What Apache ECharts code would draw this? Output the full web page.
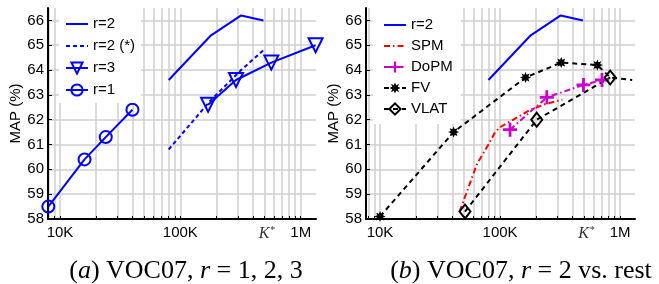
<!DOCTYPE html>
<html><head><meta charset="utf-8">
<script src="https://cdn.jsdelivr.net/npm/echarts@6/dist/echarts.min.js"></script>
<style>html,body{margin:0;padding:0;background:#fff}#c{width:659px;height:284px}</style>
</head><body><div id="c"></div>
<script>
// ---- tick / label values ----
const yTicks = [58, 59, 60, 61, 62, 63, 64, 65, 66];
const xGridK = [8000, 9000, 10000, 20000, 30000, 40000, 50000, 60000, 70000, 80000, 90000,
  100000, 200000, 300000, 400000, 500000, 600000, 700000, 800000, 900000, 1000000];
const xLabelK = [10000, 100000, 525000, 1000000];
const xLabelText = ['10K', '100K', 'K*', '1M'];
const captionA = '({i|a}) VOC07, {i|r} = 1, 2, 3';
const captionB = '({i|b}) VOC07, {i|r} = 2 vs. rest';

// ---- panel (a) ----
const r2K = [80000, 180000, 320000, 490000];
const r2MAP = [63.6, 65.4, 66.2, 66.0];
const r2sK = [80000, 180000, 320000, 490000];
const r2sMAP = [60.8, 62.8, 64.0, 64.8];
const r3K = [170000, 290000, 570000, 1330000];
const r3MAP = [62.6, 63.6, 64.3, 65.0];
const r1K = [8000, 16000, 24000, 40000];
const r1MAP = [58.5, 60.4, 61.3, 62.4];

// ---- panel (b) ----
const spmK = [46000, 64000, 80000, 91000, 100000, 129000, 178000, 245000, 330000];
const spmMAP = [58.3, 60.2, 61.0, 61.5, 61.7, 62.0, 62.4, 62.65, 62.8];
const dopmK = [121000, 245000, 495000, 706000];
const dopmMAP = [61.6, 62.9, 63.4, 63.6];
const fvK = [10000, 41000, 163000, 323000, 646000, 826000, 1260000];
const fvMAP = [58.1, 61.5, 63.7, 64.3, 64.2, 63.7, 63.6];
const fvMarkerCount = 5;
const vlatK = [51000, 202000, 826000];
const vlatMAP = [58.3, 62.0, 63.7];

const pairs = (xs, ys) => xs.map((x, i) => [x, ys[i]]);
const BLUE = '#0000ff', RED = '#ff0000', MAG = '#cc00cc', BLK = '#000000';
const FONT = 'Liberation Sans';
const CLEAR = 'rgba(255,255,255,0)';

function starPath(n, ro, ri) {
  let p = '';
  for (let i = 0; i < 2 * n; i++) {
    const r = i % 2 ? ri : ro;
    const a = Math.PI * i / n - Math.PI / 2;
    p += (i ? 'L' : 'M') + (10 + r * Math.cos(a)).toFixed(2) + ',' + (10 + r * Math.sin(a)).toFixed(2);
  }
  return 'path://' + p + 'Z';
}
const STAR = starPath(8, 10, 5.5);
const PLUS = 'path://M8,0H12V8H20V12H12V20H8V12H0V8H8Z';

function xLabelFmt(v) {
  for (let i = 0; i < xLabelK.length; i++) {
    if (Math.abs(Math.log10(v) - Math.log10(xLabelK[i])) < 0.01) {
      return xLabelText[i] === 'K*' ? '{k|K}{s|*}' : xLabelText[i];
    }
  }
  return '';
}

function makeX(idx, min, max) {
  return {
    type: 'log', gridIndex: idx, min: min, max: max, logBase: 10,
    axisLine: { show: true, lineStyle: { color: '#000', width: 2 } },
    axisTick: { show: true, inside: true, length: 3, customValues: xGridK, lineStyle: { color: '#000', width: 1 } },
    axisLabel: {
      customValues: xLabelK, formatter: xLabelFmt, margin: 6, color: '#000',
      fontFamily: FONT, fontSize: 15,
      rich: {
        k: { fontFamily: 'Liberation Serif', fontStyle: 'italic', fontSize: 16, color: '#333' },
        s: { fontFamily: 'Liberation Serif', fontSize: 10, color: '#333', padding: [0, 0, 7, 1] }
      }
    },
    splitLine: { show: true, lineStyle: { color: '#cfcfcf', width: 1.5 } }
  };
}
function makeY(idx, gap) {
  return {
    type: 'value', gridIndex: idx, min: 58, max: 66.5,
    name: 'MAP (%)', nameLocation: 'middle', nameGap: gap, nameRotate: 90,
    nameTextStyle: { fontFamily: FONT, fontSize: 15, color: '#000' },
    axisLine: { show: true, lineStyle: { color: '#000', width: 2 } },
    axisTick: { show: true, inside: true, length: 4, customValues: yTicks, lineStyle: { color: '#000', width: 1 } },
    axisLabel: { customValues: yTicks, margin: 4, color: '#000', fontFamily: FONT, fontSize: 15 },
    splitLine: { show: true, lineStyle: { color: '#cfcfcf', width: 1.5 } }
  };
}

const base = { type: 'line', animation: false, emphasis: { disabled: true }, smooth: false };
function ser(name, data, xi, color, lineType, symbol, size, opts) {
  const noSym = symbol === 'none';
  return Object.assign({}, base, {
    name: name, data: data, xAxisIndex: xi, yAxisIndex: xi,
    lineStyle: { color: color, width: 2, type: lineType },
    symbol: noSym ? 'circle' : symbol, symbolSize: noSym ? 1 : size, showSymbol: !noSym,
    itemStyle: { color: noSym ? CLEAR : color, borderWidth: 0 }
  }, opts || {});
}
const hollow = (c) => ({ itemStyle: { color: CLEAR, borderColor: c, borderWidth: 2 } });

const fvData = pairs(fvK, fvMAP).map((p, i) => i < fvMarkerCount ? p : { value: p, symbol: 'none' });

const legendCommon = {
  orient: 'vertical', backgroundColor: '#fff', itemWidth: 22, itemHeight: 14,
  textStyle: { fontFamily: FONT, fontSize: 15, color: '#000', lineHeight: 18 },
  selectedMode: false
};

const capStyle = { fontFamily: 'Liberation Serif', fontSize: 26, fontWeight: 'normal', color: '#000',
  rich: { i: { fontFamily: 'Liberation Serif', fontStyle: 'italic', fontSize: 26, color: '#000' } } };

const option = {
  backgroundColor: '#fff',
  animation: false,
  title: [
    { text: captionA, left: 181, top: 253, textAlign: 'center', textStyle: capStyle },
    { text: captionB, left: 516, top: 253, textAlign: 'center', textStyle: capStyle }
  ],
  grid: [
    { left: 48, top: 8, width: 268, height: 211 },
    { left: 366, top: 8, width: 269, height: 211 }
  ],
  xAxis: [makeX(0, 7950, 1340000), makeX(1, 7640, 1330000)],
  yAxis: [makeY(0, 24), makeY(1, 22)],
  legend: [
    Object.assign({}, legendCommon, { left: 59, top: 8, padding: [7, 6, 4, 6], itemGap: 4,
      data: ['r=2', 'r=2 (*)', 'r=3', 'r=1'] }),
    Object.assign({}, legendCommon, { left: 373, top: 8, padding: [8, 8, 6, 10], itemGap: 3,
      data: ['r=2', 'SPM', 'DoPM', 'FV', 'VLAT'] })
  ],
  series: [
    ser('r=2', pairs(r2K, r2MAP), 0, BLUE, 'solid', 'none', 0),
    ser('r=2 (*)', pairs(r2sK, r2sMAP), 0, BLUE, [4, 3], 'none', 0),
    ser('r=3', pairs(r3K, r3MAP), 0, BLUE, 'solid', 'triangle', 14, Object.assign({ symbolRotate: 180 }, hollow(BLUE))),
    ser('r=1', pairs(r1K, r1MAP), 0, BLUE, 'solid', 'circle', 12, hollow(BLUE)),
    ser('r=2', pairs(r2K, r2MAP), 1, BLUE, 'solid', 'none', 0),
    ser('SPM', pairs(spmK, spmMAP), 1, RED, [6, 3, 1.5, 3], 'none', 0),
    ser('DoPM', pairs(dopmK, dopmMAP), 1, MAG, [6, 3, 1.5, 3], PLUS, 14),
    ser('FV', fvData, 1, BLK, [5, 4], STAR, 11),
    ser('VLAT', pairs(vlatK, vlatMAP), 1, BLK, [5, 4], 'diamond', [11, 14], hollow(BLK))
  ]
};
const chart = echarts.init(document.getElementById('c'), null, { renderer: 'canvas' });
chart.setOption(option);
</script></body></html>
